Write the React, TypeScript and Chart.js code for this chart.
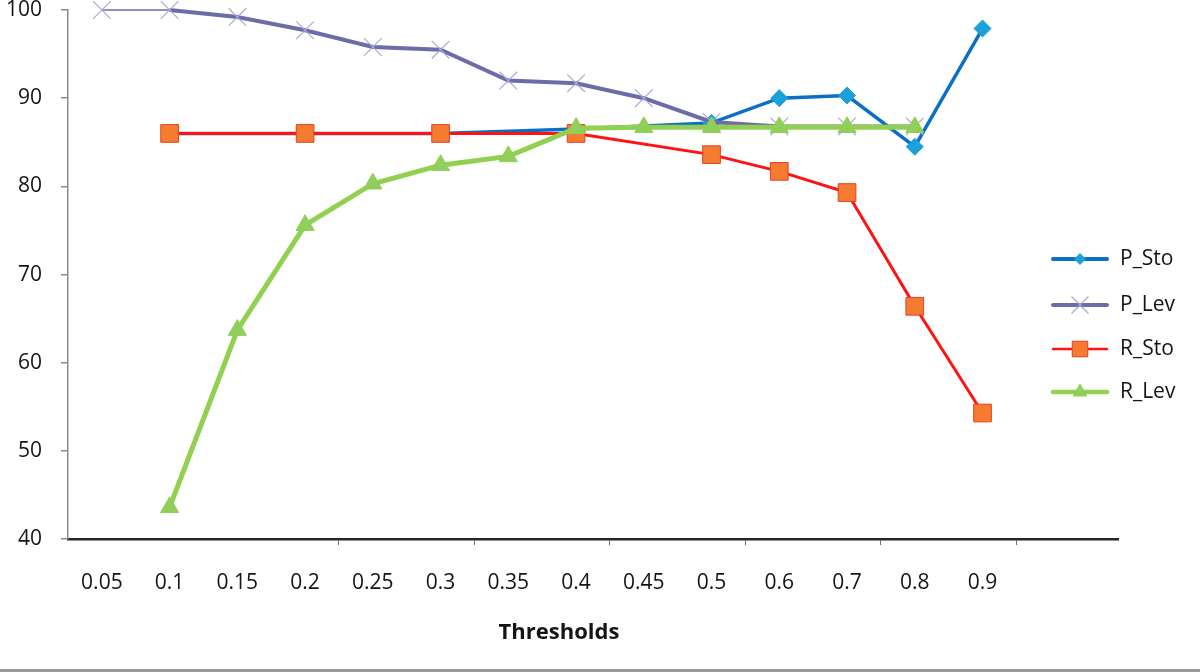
import React, { useEffect, useRef } from 'react';
import { Chart, registerables } from 'chart.js';

Chart.register(...registerables);

// ---- data ----
const thresholds = ['0.05', '0.1', '0.15', '0.2', '0.25', '0.3', '0.35', '0.4', '0.45', '0.5', '0.6', '0.7', '0.8', '0.9'];
const pSto = [null, 86.0, null, 86.0, null, 86.0, null, 86.5, null, 87.2, 90.0, 90.3, 84.5, 97.9];
const pLev = [100, 100, 99.2, 97.7, 95.8, 95.5, 92.0, 91.7, 90.0, 87.3, 86.8, 86.8, 86.8, null];
const rSto = [null, 86.0, null, 86.0, null, 86.0, null, 86.0, null, 83.6, 81.7, 79.3, 66.4, 54.3];
const rLev = [null, 43.6, 63.7, 75.6, 80.3, 82.4, 83.4, 86.6, 86.7, 86.7, 86.7, 86.7, 86.7, null];
const yTicks = [40, 50, 60, 70, 80, 90, 100];
const seriesNames = ['P_Sto', 'P_Lev', 'R_Sto', 'R_Lev'];
const xTitle = 'Thresholds';

const FONT = '"Open Sans", "Noto Sans", sans-serif';
const TEXT = '#141414';

const toXY = (arr: (number | null)[]) => arr.map((v, i) => ({ x: i, y: v }));

function drawMarker(ctx: CanvasRenderingContext2D, style: string, x: number, y: number, r: number, fill: string, stroke: string, lw: number) {
  ctx.save();
  ctx.beginPath();
  if (style === 'rectRot') {
    ctx.moveTo(x - r, y); ctx.lineTo(x, y - r); ctx.lineTo(x + r, y); ctx.lineTo(x, y + r); ctx.closePath();
  } else if (style === 'rect') {
    const s = r * Math.SQRT1_2;
    ctx.rect(x - s, y - s, 2 * s, 2 * s);
  } else if (style === 'triangle') {
    const w = r * Math.sin((2 * Math.PI) / 3);
    ctx.moveTo(x, y - r); ctx.lineTo(x + w, y + r / 2); ctx.lineTo(x - w, y + r / 2); ctx.closePath();
  } else if (style === 'crossRot') {
    const o = r * Math.SQRT1_2;
    ctx.moveTo(x - o, y - o); ctx.lineTo(x + o, y + o);
    ctx.moveTo(x + o, y - o); ctx.lineTo(x - o, y + o);
  }
  if (style !== 'crossRot') { ctx.fillStyle = fill; ctx.fill(); }
  ctx.lineWidth = lw; ctx.strokeStyle = stroke; ctx.stroke();
  ctx.restore();
}

const legendStyles = [
  { line: 4, marker: 'rectRot', r: 5.5 },
  { line: 4, marker: 'crossRot', r: 12 },
  { line: 2.5, marker: 'rect', r: 11 },
  { line: 4.5, marker: 'triangle', r: 8 },
];
const legendRows = [259, 305, 349, 392];

const legendPlugin = {
  id: 'sideLegend',
  afterDraw(chart: any) {
    const ctx = chart.ctx as CanvasRenderingContext2D;
    chart.data.datasets.forEach((ds: any, i: number) => {
      const y = legendRows[i];
      const st = legendStyles[i];
      ctx.save();
      ctx.beginPath();
      ctx.moveTo(1053, y); ctx.lineTo(1107, y);
      ctx.lineWidth = st.line; ctx.strokeStyle = ds.borderColor; ctx.lineCap = 'round';
      ctx.stroke();
      ctx.restore();
      drawMarker(ctx, st.marker, 1080, y, st.r, ds.pointBackgroundColor, ds.pointBorderColor, ds.pointBorderWidth);
      ctx.save();
      ctx.font = `21px ${FONT}`;
      ctx.fillStyle = TEXT;
      ctx.textBaseline = 'middle';
      ctx.textAlign = 'left';
      ctx.fillText(seriesNames[i], 1120, y);
      ctx.restore();
    });
  },
};

const frameLine = {
  id: 'frameLine',
  afterDraw(chart: any) {
    const ctx = chart.ctx as CanvasRenderingContext2D;
    ctx.save();
    ctx.fillStyle = '#9b9b9b';
    ctx.fillRect(0, chart.height - 3, chart.width, 3);
    ctx.restore();
  },
};

const tickIdx = [4, 6, 8, 10, 12];
const xGridColor = (c: any) => (c.index === undefined || tickIdx.includes(c.index) ? '#707070' : 'rgba(0,0,0,0)');

export default function App() {
  const ref = useRef<HTMLCanvasElement | null>(null);
  useEffect(() => {
    if (!ref.current) return;
    const chart = new Chart(ref.current, {
      type: 'line',
      data: {
        datasets: [
          {
            label: seriesNames[0], data: toXY(pSto) as any, order: 3, spanGaps: true, clip: false as any,
            borderColor: '#0b6fc8', borderWidth: 3.5,
            pointStyle: 'rectRot', pointRadius: 8.5, pointBackgroundColor: '#1ba0d9', pointBorderColor: '#1ba0d9', pointBorderWidth: 1,
          },
          {
            label: seriesNames[1], data: toXY(pLev) as any, order: 2, spanGaps: true, clip: false as any,
            borderColor: '#6c6ca8', borderWidth: 4,
            segment: { borderWidth: (c: any) => (c.p0DataIndex === 0 ? 1.5 : 4) },
            pointStyle: 'crossRot', pointRadius: 12.5, pointBackgroundColor: 'rgba(0,0,0,0)', pointBorderColor: '#a9a9d6', pointBorderWidth: 1.2,
          },
          {
            label: seriesNames[2], data: toXY(rSto) as any, order: 1, spanGaps: true, clip: false as any,
            borderColor: '#ff1212', borderWidth: 3,
            pointStyle: 'rect', pointRadius: 12.5, pointBackgroundColor: '#f47b30', pointBorderColor: '#e8401f', pointBorderWidth: 1,
          },
          {
            label: seriesNames[3], data: toXY(rLev) as any, order: 0, spanGaps: true, clip: false as any,
            borderColor: '#92d050', borderWidth: 5,
            pointStyle: 'triangle', pointRadius: 10.5, pointBackgroundColor: '#8fcf5a', pointBorderColor: '#8fcf5a', pointBorderWidth: 1,
          },
        ],
      },
      options: {
        animation: false,
        responsive: false,
        events: [],
        layout: { autoPadding: false, padding: { top: 10, right: 82, left: 0, bottom: 0 } },
        plugins: {
          legend: { display: false },
          tooltip: { enabled: false },
          title: {
            display: true, position: 'bottom', text: xTitle, color: TEXT,
            font: { family: FONT, size: 22, weight: 'bold' },
            padding: { top: 0, bottom: 26 },
          },
        },
        scales: {
          x: {
            type: 'linear', min: -0.5, max: 15,
            afterBuildTicks: (s: any) => { s.ticks = thresholds.map((_, i) => ({ value: i })); },
            afterFit: (s: any) => { s.height = 80.5; },
            ticks: {
              autoSkip: false, maxRotation: 0, minRotation: 0, padding: 25, color: TEXT,
              font: { family: FONT, size: 21 },
              callback: (v: any) => thresholds[v] ?? '',
            },
            grid: {
              display: true, offset: true, drawOnChartArea: false, drawTicks: true, tickLength: 6,
              color: xGridColor as any, tickColor: xGridColor as any, lineWidth: 1, tickWidth: 1,
            },
            border: { display: true, color: '#262626', width: 2.5 },
          },
          y: {
            type: 'linear', min: 40, max: 100,
            afterBuildTicks: (s: any) => { s.ticks = yTicks.map((v) => ({ value: v })); },
            afterFit: (s: any) => { s.width = 68; s.paddingTop = 8; s.paddingBottom = 8; },
            ticks: { padding: 19, color: TEXT, font: { family: FONT, size: 21 } },
            grid: { drawOnChartArea: false, drawTicks: true, tickLength: 7, color: '#8a8a8a', lineWidth: 1.5 },
            border: { display: true, color: '#8a8a8a', width: 1.5 },
          },
        },
      },
      plugins: [legendPlugin, frameLine],
    });
    return () => chart.destroy();
  }, []);
  return (
    <div style={{ position: 'absolute', left: 0, top: 0, width: 1200, height: 672, background: '#fff' }}>
      <canvas ref={ref} width={1200} height={672} style={{ display: 'block' }} />
    </div>
  );
}
